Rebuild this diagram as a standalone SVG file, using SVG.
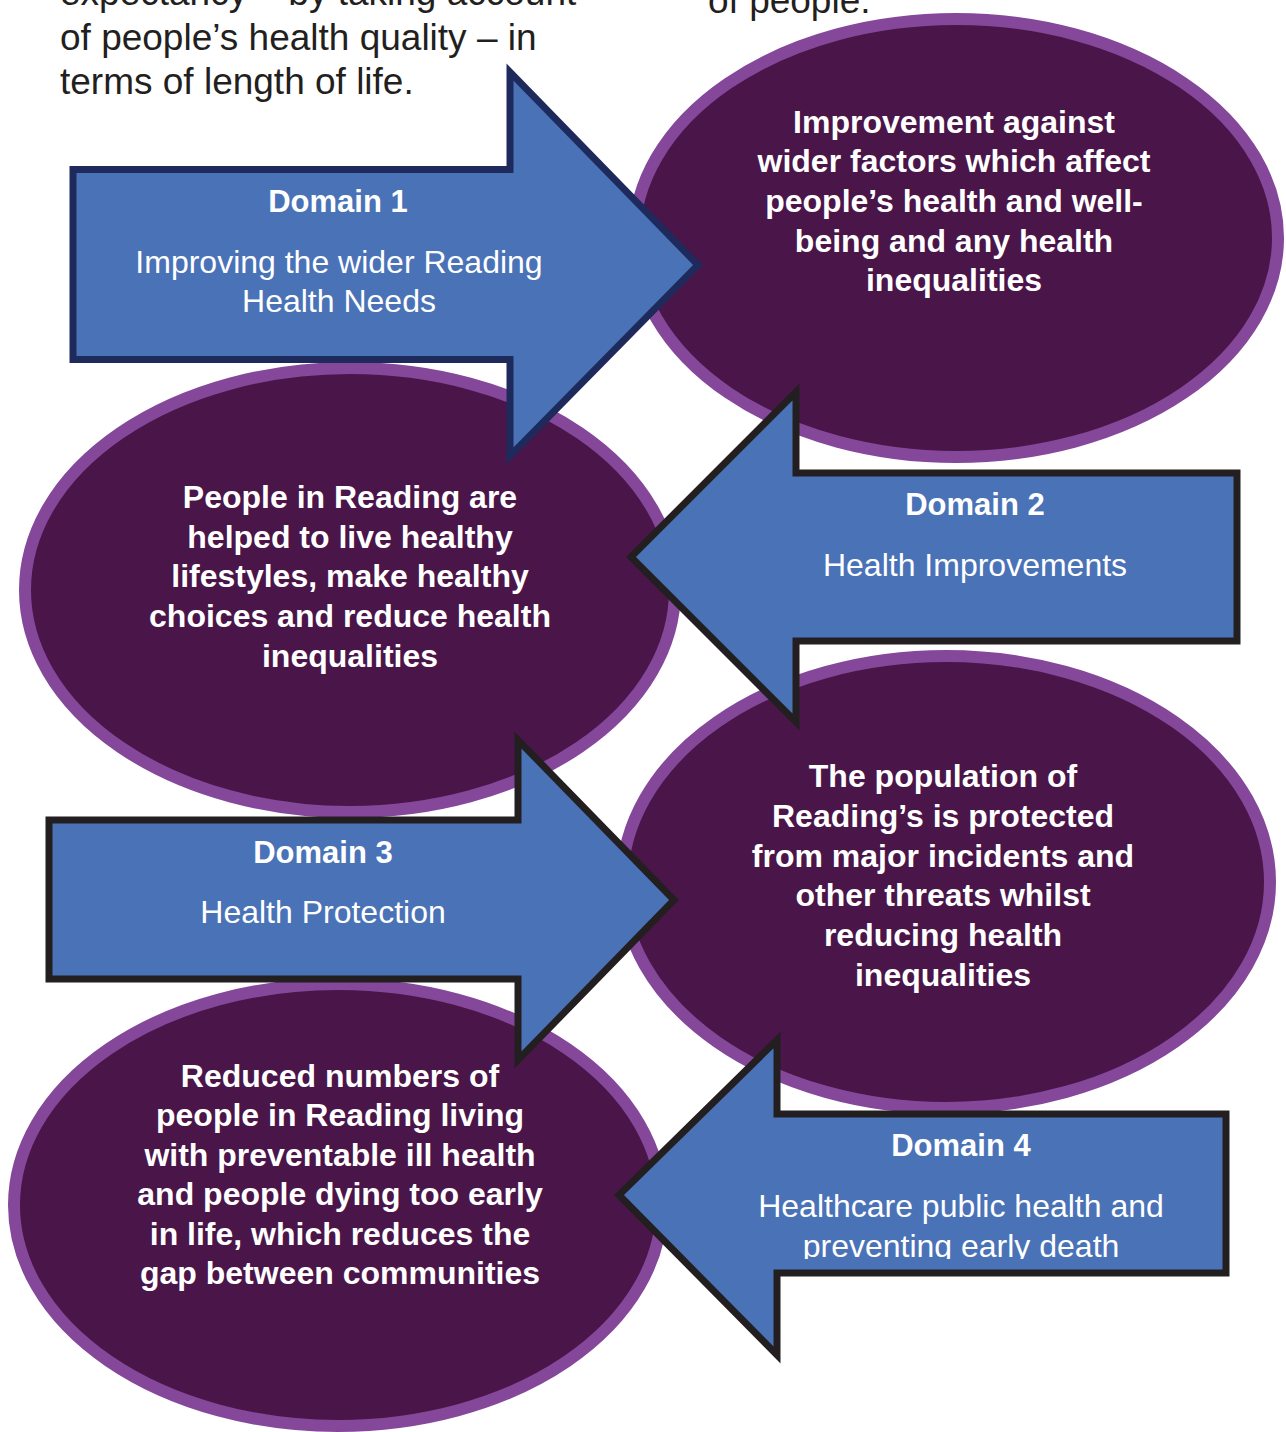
<svg xmlns="http://www.w3.org/2000/svg" width="1286" height="1432" viewBox="0 0 1286 1432">
<style>
.ell{fill:#4A1549;stroke:#84479A;stroke-width:12}
.arr{fill:#4A72B7;stroke:#231F20;stroke-width:7;stroke-linejoin:miter;stroke-miterlimit:10}
.arr1{stroke:#1F2A5C}
.et{font-family:"Liberation Sans",Arial,sans-serif;font-weight:bold;font-size:32px;fill:#FFFFFF;text-anchor:middle}
.dt{font-family:"Liberation Sans",Arial,sans-serif;font-weight:bold;font-size:31px;fill:#FFFFFF;text-anchor:middle}
.ds{font-family:"Liberation Sans",Arial,sans-serif;font-size:32px;fill:#FFFFFF;text-anchor:middle}
.bt{font-family:"Liberation Sans",Arial,sans-serif;font-size:37px;fill:#231F20}
</style>
<defs>
<clipPath id="clip4"><rect x="700" y="1120" width="520" height="139"/></clipPath>
</defs>
<rect width="1286" height="1432" fill="#FFFFFF"/>
<g id="body-text">
<text class="bt" x="60" y="5">expectancy – by taking account</text>
<text class="bt" x="60" y="50">of people’s health quality – in</text>
<text class="bt" x="60" y="94">terms of length of life.</text>
<text class="bt" x="708" y="13">of people.</text>
</g>
<g id="outcome1">
<ellipse class="ell" cx="956" cy="238" rx="322" ry="219"/>
<text class="et" x="954"><tspan x="954" y="133">Improvement against</tspan><tspan x="954" y="172">wider factors which affect</tspan><tspan x="954" y="212">people’s health and well-</tspan><tspan x="954" y="252">being and any health</tspan><tspan x="954" y="291">inequalities</tspan></text>
</g>
<g id="outcome2">
<ellipse class="ell" cx="350" cy="590" rx="325" ry="222"/>
<text class="et"><tspan x="350" y="508">People in Reading are</tspan><tspan x="350" y="548">helped to live healthy</tspan><tspan x="350" y="587">lifestyles, make healthy</tspan><tspan x="350" y="627">choices and reduce health</tspan><tspan x="350" y="667">inequalities</tspan></text>
</g>
<g id="outcome3">
<ellipse class="ell" cx="946" cy="882" rx="324" ry="226"/>
<text class="et"><tspan x="943" y="787">The population of</tspan><tspan x="943" y="827">Reading’s is protected</tspan><tspan x="943" y="867">from major incidents and</tspan><tspan x="943" y="906">other threats whilst</tspan><tspan x="943" y="946">reducing health</tspan><tspan x="943" y="986">inequalities</tspan></text>
</g>
<g id="outcome4">
<ellipse class="ell" cx="338" cy="1205" rx="324" ry="221"/>
<text class="et"><tspan x="340" y="1087">Reduced numbers of</tspan><tspan x="340" y="1126">people in Reading living</tspan><tspan x="340" y="1166">with preventable ill health</tspan><tspan x="340" y="1205">and people dying too early</tspan><tspan x="340" y="1245">in life, which reduces the</tspan><tspan x="340" y="1284">gap between communities</tspan></text>
</g>
<g id="domain1">
<path class="arr arr1" d="M73,169.5 H510 V72 L698,265 L510,456 V359.5 H73 Z"/>
<text class="dt" x="338" y="212">Domain 1</text>
<text class="ds"><tspan x="339" y="273">Improving the wider Reading</tspan><tspan x="339" y="312">Health Needs</tspan></text>
</g>
<g id="domain2">
<path class="arr" d="M1237,473 H796 V392 L631,557 L796,722 V641 H1237 Z"/>
<text class="dt" x="975" y="515">Domain 2</text>
<text class="ds" x="975" y="576">Health Improvements</text>
</g>
<g id="domain3">
<path class="arr" d="M49,820 H518 V740 L674,900 L518,1060 V979 H49 Z"/>
<text class="dt" x="323" y="863">Domain 3</text>
<text class="ds" x="323" y="923">Health Protection</text>
</g>
<g id="domain4">
<path class="arr" d="M1226,1114 H777 V1040 L619,1195 L777,1355 V1273 H1226 Z"/>
<text class="dt" x="961" y="1156">Domain 4</text>
<g clip-path="url(#clip4)">
<text class="ds"><tspan x="961" y="1217">Healthcare public health and</tspan><tspan x="961" y="1257">preventing early death</tspan></text>
</g>
</g>
<g id="connectors"/>
</svg>
